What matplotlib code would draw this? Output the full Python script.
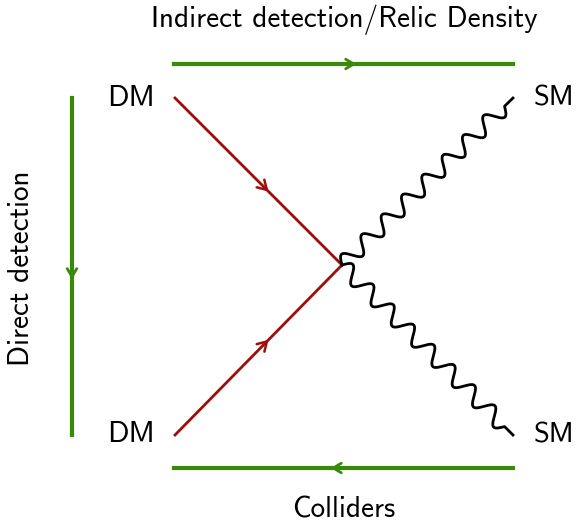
import numpy as np
import matplotlib.pyplot as plt

# diagram geometry (pixel coordinates of the reference image)
vertex = (342, 265)
dm_in = [(175, 98), (175, 435)]
sm_out = [(513, 98), (513, 435)]
labels_dm = ['DM', 'DM']
labels_sm = ['SM', 'SM']
green_lines = [((174, 64), (513, 64)), ((72, 98), (72, 435)), ((513, 468), (174, 468))]
green_arrow_pos = [0.53, 0.53, 0.53]
titles = ['Indirect detection/Relic Density', 'Colliders', 'Direct detection']

GREEN = '#3a8a0a'
RED = '#a00c0c'

fig = plt.figure(figsize=(5.76, 5.23), dpi=100)
ax = fig.add_axes([0, 0, 1, 1])
ax.set_xlim(0, 576)
ax.set_ylim(523, 0)
ax.axis('off')


def chevron(ax, p, d, color, size=8, lw=2):
    d = np.asarray(d, float)
    d /= np.hypot(*d)
    n = np.array([-d[1], d[0]])
    tip = np.asarray(p, float)
    for s in (1, -1):
        back = tip - d * size + s * n * size * 0.6
        ax.plot([back[0], tip[0]], [back[1], tip[1]], color=color, lw=lw,
                solid_capstyle='round')


# green arrows
for (a, b), f in zip(green_lines, green_arrow_pos):
    ax.plot([a[0], b[0]], [a[1], b[1]], color=GREEN, lw=3)
    p = (a[0] + f * (b[0] - a[0]), a[1] + f * (b[1] - a[1]))
    chevron(ax, p, (b[0] - a[0], b[1] - a[1]), GREEN, size=8, lw=2)

# fermion lines
for p in dm_in:
    ax.plot([p[0], vertex[0]], [p[1], vertex[1]], color=RED, lw=2)
    mid = (p[0] + 0.55 * (vertex[0] - p[0]), p[1] + 0.55 * (vertex[1] - p[1]))
    chevron(ax, mid, (vertex[0] - p[0], vertex[1] - p[1]), RED, size=9, lw=1.8)

# photon (wavy) lines
for k, q in enumerate(sm_out):
    v = np.array(q, float) - np.array(vertex, float)
    L = np.hypot(*v)
    u = v / L
    n = np.array([-u[1], u[0]])
    t = np.linspace(0, 1, 1200)
    w = -8 * np.sin(2 * np.pi * 8 * t / 0.95)
    w[t > 0.95] = 0
    xs = vertex[0] + v[0] * t + n[0] * w
    ys = vertex[1] + v[1] * t + n[1] * w
    ax.plot(xs, ys, color='black', lw=2)

fam = ['cmss10', 'DejaVu Sans']
for p, s in zip(dm_in, labels_dm):
    ax.text(p[0] - 20, p[1], s, ha='right', va='center', fontsize=21.5, family=fam)
for q, s in zip(sm_out, labels_sm):
    ax.text(q[0] + 21, q[1], s, ha='left', va='center', fontsize=20.5, family=fam)

ax.text(344, 20, titles[0], ha='center', va='center', fontsize=21, family=fam)
ax.text(344, 510, titles[1], ha='center', va='center', fontsize=21, family=fam)
ax.text(22, 268, titles[2], ha='center', va='center', fontsize=21, family=fam,
        rotation=90)

fig.savefig('out.png', dpi=100)
